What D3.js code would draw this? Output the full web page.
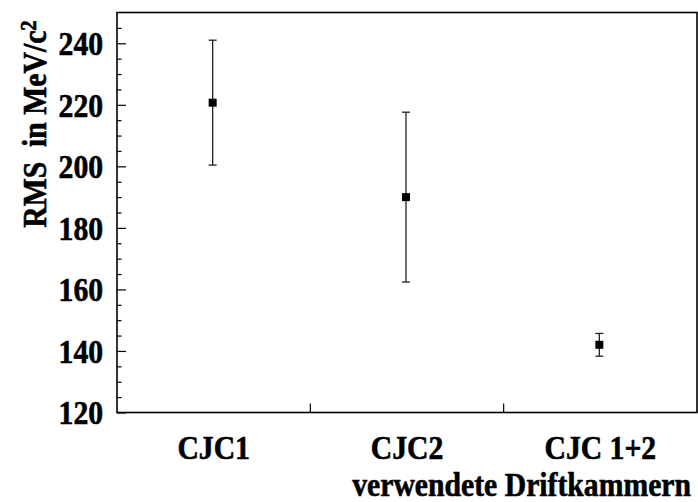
<!DOCTYPE html>
<html>
<head>
<meta charset="utf-8">
<script src="https://cdn.jsdelivr.net/npm/d3@7"></script>
<style>
  body { margin: 0; background: #fff; }
  text { font-family: "Liberation Serif", "Times New Roman", serif; font-weight: bold; fill: #000; stroke: #000; stroke-width: 0.6px; }
</style>
</head>
<body>
<div id="chart"></div>
<script>
const categories = ["CJC1", "CJC2", "CJC 1+2"];
const rmsValues = [220.7, 190.0, 142.0];
const rmsErrors = [20.3, 27.6, 3.7];
const yTicks = [120, 140, 160, 180, 200, 220, 240];

const width = 698;
const height = 502;
const plot = { left: 117, right: 697, top: 12.5, bottom: 412.5 };
const fontSize = "33px";
const squeeze = "scale(0.9,1)"; // reference type is narrow and tall

const svg = d3.select("#chart")
  .append("svg")
  .attr("width", width)
  .attr("height", height);

const x = d3.scaleBand()
  .domain(categories)
  .range([plot.left, plot.right])
  .padding(0);

const y = d3.scaleLinear()
  .domain([120, 250])
  .range([plot.bottom, plot.top]);

// minor ticks every 5
const minor = d3.range(125, 250, 5).filter(function(v) { return v % 20 !== 0; });
svg.append("g")
  .attr("transform", "translate(" + plot.left + ",0)")
  .call(d3.axisLeft(y).tickValues(minor).tickSize(-4.5).tickFormat(""))
  .call(function(g) { g.select(".domain").remove(); })
  .selectAll("line").attr("stroke", "#000").attr("stroke-width", 1.2);

// major ticks + labels
const yAxis = svg.append("g")
  .attr("transform", "translate(" + plot.left + ",0)")
  .call(d3.axisLeft(y).tickValues(yTicks).tickSize(-9).tickPadding(15.5));
yAxis.select(".domain").remove();
yAxis.selectAll("line").attr("stroke", "#000").attr("stroke-width", 1.2);
yAxis.selectAll("text")
  .style("font-size", fontSize)
  .attr("transform", squeeze)
  .attr("dy", "0.34em");

// x axis labels
const xAxis = svg.append("g")
  .attr("transform", "translate(0," + plot.bottom + ")")
  .call(d3.axisBottom(x).tickSize(0).tickPadding(23));
xAxis.select(".domain").remove();
xAxis.selectAll("text")
  .style("font-size", fontSize)
  .attr("transform", squeeze);

// x boundary ticks
svg.append("g")
  .selectAll("line")
  .data(categories.slice(1))
  .enter()
  .append("line")
  .attr("x1", function(d) { return x(d); })
  .attr("x2", function(d) { return x(d); })
  .attr("y1", plot.bottom)
  .attr("y2", plot.bottom - 9)
  .attr("stroke", "#000")
  .attr("stroke-width", 1.2);

// frame
svg.append("rect")
  .attr("x", plot.left)
  .attr("y", plot.top)
  .attr("width", plot.right - plot.left)
  .attr("height", plot.bottom - plot.top)
  .attr("fill", "none")
  .attr("stroke", "#000")
  .attr("stroke-width", 1.6);

// error bars
const points = categories.map(function(c, i) {
  return { cat: c, value: rmsValues[i], err: rmsErrors[i] };
});

const bars = svg.append("g")
  .selectAll("g")
  .data(points)
  .enter()
  .append("g");

bars.append("line")
  .attr("x1", function(d) { return x(d.cat) + x.bandwidth() / 2 - 1; })
  .attr("x2", function(d) { return x(d.cat) + x.bandwidth() / 2 - 1; })
  .attr("y1", function(d) { return y(d.value + d.err); })
  .attr("y2", function(d) { return y(d.value - d.err); })
  .attr("stroke", "#222")
  .attr("stroke-width", 1.3);

[1, -1].forEach(function(s) {
  bars.append("line")
    .attr("x1", function(d) { return x(d.cat) + x.bandwidth() / 2 - 5; })
    .attr("x2", function(d) { return x(d.cat) + x.bandwidth() / 2 + 3; })
    .attr("y1", function(d) { return y(d.value + s * d.err); })
    .attr("y2", function(d) { return y(d.value + s * d.err); })
    .attr("stroke", "#222")
    .attr("stroke-width", 1.3);
});

bars.append("rect")
  .attr("x", function(d) { return x(d.cat) + x.bandwidth() / 2 - 5; })
  .attr("y", function(d) { return y(d.value) - 4; })
  .attr("width", 8)
  .attr("height", 8)
  .attr("fill", "#000");

// y title
const yTitle = svg.append("text")
  .attr("transform", "translate(46,124) rotate(-90) " + squeeze)
  .attr("text-anchor", "middle")
  .style("font-size", fontSize);
yTitle.append("tspan").text("RMS\u00a0 in MeV/c");
yTitle.append("tspan").attr("dy", "-0.45em").style("font-size", "23px").text("2");

// x title
svg.append("text")
  .attr("transform", "translate(691,496) " + squeeze)
  .attr("text-anchor", "end")
  .style("font-size", fontSize)
  .text("verwendete Driftkammern");
</script>
</body>
</html>
